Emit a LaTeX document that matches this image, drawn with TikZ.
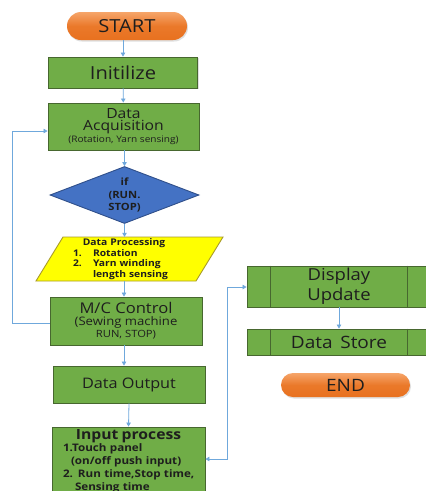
\documentclass[tikz,border=0pt]{standalone}
\usepackage{fontspec}
\setmainfont{Open Sans}[FakeStretch=1.12]
\usetikzlibrary{shapes.geometric,shapes.misc,arrows.meta,shadows}

\definecolor{boxgreen}{HTML}{70AD47}
\definecolor{boxedge}{HTML}{47672F}
\definecolor{pilltop}{HTML}{F6A56A}
\definecolor{pillbot}{HTML}{E8711F}
\definecolor{decblue}{HTML}{4472C4}
\definecolor{decedge}{HTML}{2F4F8A}
\definecolor{procyellow}{HTML}{FFFF00}
\definecolor{procedge}{HTML}{A89A2A}
\definecolor{flowblue}{HTML}{6FA8DC}
\definecolor{inktext}{HTML}{1E1E1E}

\tikzset{
  every node/.style={text=inktext, align=center, inner sep=0pt},
  greenbox/.style={rectangle, draw=boxedge, line width=0.9pt, fill=boxgreen,
    drop shadow={opacity=0.25, shadow xshift=1pt, shadow yshift=-1pt}},
  pill/.style={rounded rectangle, draw=none, top color=pilltop, bottom color=pillbot,
    middle color=pillbot!85!pilltop,
    drop shadow={opacity=0.25, shadow xshift=1pt, shadow yshift=-1.5pt}},
  decbox/.style={diamond, draw=decedge, line width=0.9pt, fill=decblue,
    font=\bfseries\fontsize{10}{12.5}\selectfont},
  procshape/.style={draw=procedge, line width=0.9pt, fill=procyellow},
  flow/.style={draw=flowblue, line width=0.8pt, -{Triangle[width=4.5pt,length=4pt]}},
  bothflow/.style={draw=flowblue, line width=0.8pt,
    {Triangle[width=4.5pt,length=4pt]}-{Triangle[width=4.5pt,length=4pt]}},
}

\begin{document}
\begin{tikzpicture}[x=1pt, y=-1pt]
  \clip (0,0) rectangle (426,491);
  \fill[white] (0,0) rectangle (426,491);

  % main column
  \node[pill, minimum width=120pt, minimum height=28pt, font=\fontsize{18}{20}\selectfont]
    (start) at (127,26) {START};
  \node[greenbox, minimum width=149pt, minimum height=31pt, font=\fontsize{18}{20}\selectfont]
    (init) at (123,72.5) {Initilize};
  \node[greenbox, minimum width=151pt, minimum height=47pt]
    (acq) at (123.5,126.5)
    {\fontsize{14}{16.5}\selectfont Data\\
     \fontsize{14}{15.5}\selectfont Acquisition\\[-0.5pt]
     \fontsize{9}{10}\selectfont (Rotation, Yarn sensing)};
  \node[decbox, minimum width=149pt, minimum height=57pt, aspect=2.6]
    (dec) at (124.5,195) {if\\(RUN.\\STOP)};

  % data processing parallelogram
  \draw[procshape] (36,281) -- (63,237) -- (223,237) -- (196,281) -- cycle;
  \node[minimum width=150pt, minimum height=44pt, text width=150pt, align=left,
        font=\bfseries\fontsize{9.2}{10.7}\selectfont]
    (proc) at (124,259)
    {\centering Data Processing\par
     \raggedright
     \hspace*{24pt}\makebox[20pt][l]{1.}Rotation\\
     \hspace*{24pt}\makebox[20pt][l]{2.}Yarn winding\\
     \hspace*{44pt}length sensing\par};

  \node[greenbox, minimum width=152pt, minimum height=48pt]
    (mc) at (126,321)
    {\fontsize{14.8}{15.5}\selectfont M/C Control\\
     \fontsize{11.7}{13.5}\selectfont (Sewing machine\\RUN, STOP)};
  \node[greenbox, minimum width=152pt, minimum height=37pt, font=\fontsize{14.5}{16}\selectfont]
    (out) at (129,384.5) {Data Output};
  \node[greenbox, minimum width=153pt, minimum height=68pt, text width=141pt, align=left]
    (inp) at (128.5,461)
    {\centering\bfseries\fontsize{14}{14.5}\selectfont Input process\par
     \raggedright\fontsize{10.4}{12.8}\selectfont
     \hspace*{5pt}1.Touch panel\\
     \hspace*{13pt}(on/off push input)\\
     \hspace*{5pt}2. Run time,Stop time,\\
     \hspace*{17pt}Sensing time\par};

  % right column
  \node[greenbox, minimum width=184pt, minimum height=41pt, font=\fontsize{16.5}{20}\selectfont]
    (disp) at (339,286.5) {Display\\Update};
  \node[greenbox, minimum width=184pt, minimum height=26pt, font=\fontsize{17}{19}\selectfont]
    (store) at (339,342) {Data\hspace{0.45em}Store};
  \foreach \b in {disp,store}{
    \draw[boxedge, line width=0.9pt] ([xshift=24pt]\b.north west) -- ([xshift=24pt]\b.south west);
    \draw[boxedge, line width=0.9pt] ([xshift=-24pt]\b.north east) -- ([xshift=-24pt]\b.south east);
  }
  \node[pill, minimum width=129pt, minimum height=24pt, font=\fontsize{17}{19}\selectfont]
    (end) at (345.5,385) {END};

  % connectors
  \draw[flow] (start.south -| init.north) -- (init.north);
  \draw[flow] (init) -- (acq);
  \draw[flow] (acq.south -| dec.north) -- (dec.north);
  \draw[flow] (dec.south) -- (dec.south |- proc.north);
  \draw[flow] ([xshift=-2pt]proc.south -| mc.north) -- ([xshift=-2pt]mc.north);
  \draw[flow] ([xshift=-2pt]mc.south) -- ([xshift=-2pt]mc.south |- out.north);
  \draw[flow] (out.south) -- (inp.north);

  \coordinate (loopA) at (12,323);
  \coordinate (loopB) at (12,131);
  \draw[flow] (mc.west |- loopA) -- (loopA) -- (loopB) -- (acq.west |- loopB);

  \coordinate (linkA) at (227,459);
  \coordinate (linkB) at (227,287);
  \draw[bothflow] (inp.east |- linkA) -- (linkA) -- (linkB) -- (disp.west |- linkB);

  \draw[flow] (disp.south) -- (store.north);
\end{tikzpicture}
\end{document}
